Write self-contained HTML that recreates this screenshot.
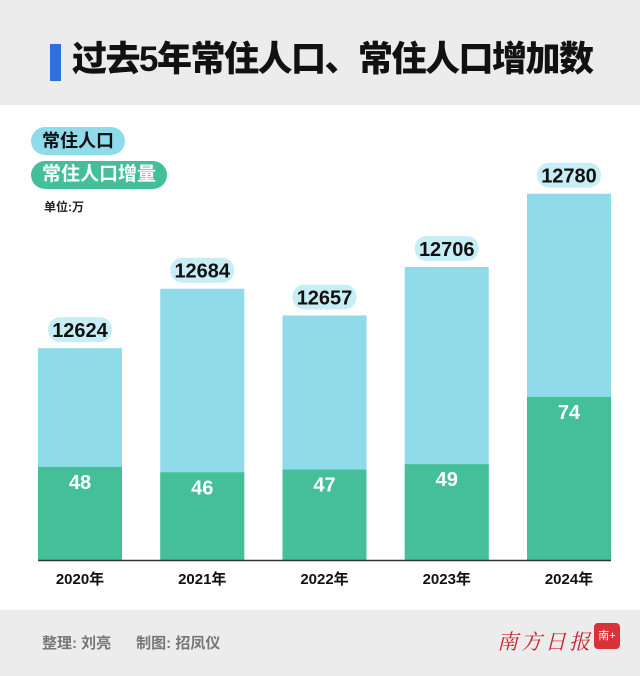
<!DOCTYPE html>
<html><head><meta charset="utf-8"><style>
body{margin:0;width:640px;height:676px;background:#fff;font-family:"Liberation Sans","Noto Sans CJK SC",sans-serif;position:relative;overflow:hidden}
.hdr{position:absolute;left:0;top:0;width:640px;height:105px;background:#ececec}
.ttl{position:absolute;left:72px;top:38px;font-size:35px;font-weight:900;color:#111;letter-spacing:-1.5px;line-height:44px;white-space:nowrap}
.mark{position:absolute;left:50px;top:44px;width:11px;height:37px;background:#2f6fe0}
.ftr{position:absolute;left:0;top:610px;width:640px;height:66px;background:#ececec}
.pill{position:absolute;border-radius:14px;font-weight:700;font-size:18px;line-height:28px;padding:0 11px;white-space:nowrap}
</style></head><body>
<div class="hdr"></div>
<div class="mark"></div>
<div class="ttl">过去5年常住人口、常住人口增加数</div>
<div class="pill" style="left:31px;top:127px;background:#8fdbe9;color:#111">常住人口</div>
<div class="pill" style="left:31px;top:161px;background:#45bf98;color:#fff;font-size:19px">常住人口增量</div>
<div style="position:absolute;left:44px;top:198px;font-size:12px;font-weight:700;color:#222">单位:万</div>
<svg id="chart" width="640" height="676" style="position:absolute;left:0;top:0"></svg>
<div class="ftr"></div>
<div style="position:absolute;left:42px;top:632px;font-size:15px;font-weight:700;color:#777">整理: 刘亮&nbsp;&nbsp;&nbsp;&nbsp;&nbsp;&nbsp;制图: 招凤仪</div>
<div style="position:absolute;left:497px;top:626px;font-size:21px;color:#c8202a;font-family:'Noto Serif CJK SC',serif;font-style:italic;letter-spacing:3px">南方日报</div>
<div style="position:absolute;left:594px;top:623px;width:26px;height:26px;border-radius:4px;background:#d9333a;color:#fff;font-size:11px;line-height:26px;text-align:center">南+</div>
<script>
const years=["2020年","2021年","2022年","2023年","2024年"];
const population=[12624,12684,12657,12706,12780];
const increase=[48,46,47,49,74];
const svg=document.getElementById('chart');
const NS='http://www.w3.org/2000/svg';
const base=560;
function yPop(v){return base-(v-12410)*0.99;}
function yInc(v){return base-(v*2.69-36);}
function xBar(i){return 38+i*122.25;}
const bw=84;
function mk(t,a){const e=document.createElementNS(NS,t);for(const k in a)e.setAttribute(k,a[k]);svg.appendChild(e);return e;}
years.forEach((y,i)=>{
 const x=xBar(i),cx=x+bw/2;
 const r=mk('rect',{x:x,y:yPop(population[i]),width:bw,height:base-yPop(population[i]),fill:'#8fdbe9'});
 
 
 const g=mk('rect',{x:x,y:yInc(increase[i]),width:bw,height:base-yInc(increase[i]),fill:'#45bf98'});
 
 
 const pt=yPop(population[i]);
 const p=mk('rect',{x:cx-32,y:pt-31,width:64,height:25,rx:12,fill:'#c7eef5'});
 
 
 const t=mk('text',{x:cx,y:pt-11,'text-anchor':'middle','font-size':20,'font-weight':700,fill:'#111'});
 t.textContent=population[i];
 
 
 const t2=mk('text',{x:cx,y:yInc(increase[i])+22,'text-anchor':'middle','font-size':20,'font-weight':700,fill:'#fff'});
 t2.textContent=increase[i];
 
 
 const t3=mk('text',{x:cx,y:584,'text-anchor':'middle','font-size':15,'font-weight':700,fill:'#111'});
 t3.textContent=y;
 
 
});
const ax=mk('line',{x1:38,x2:611,y1:base+0.5,y2:base+0.5,stroke:'#333','stroke-width':1.5});


</script>
</body></html>
